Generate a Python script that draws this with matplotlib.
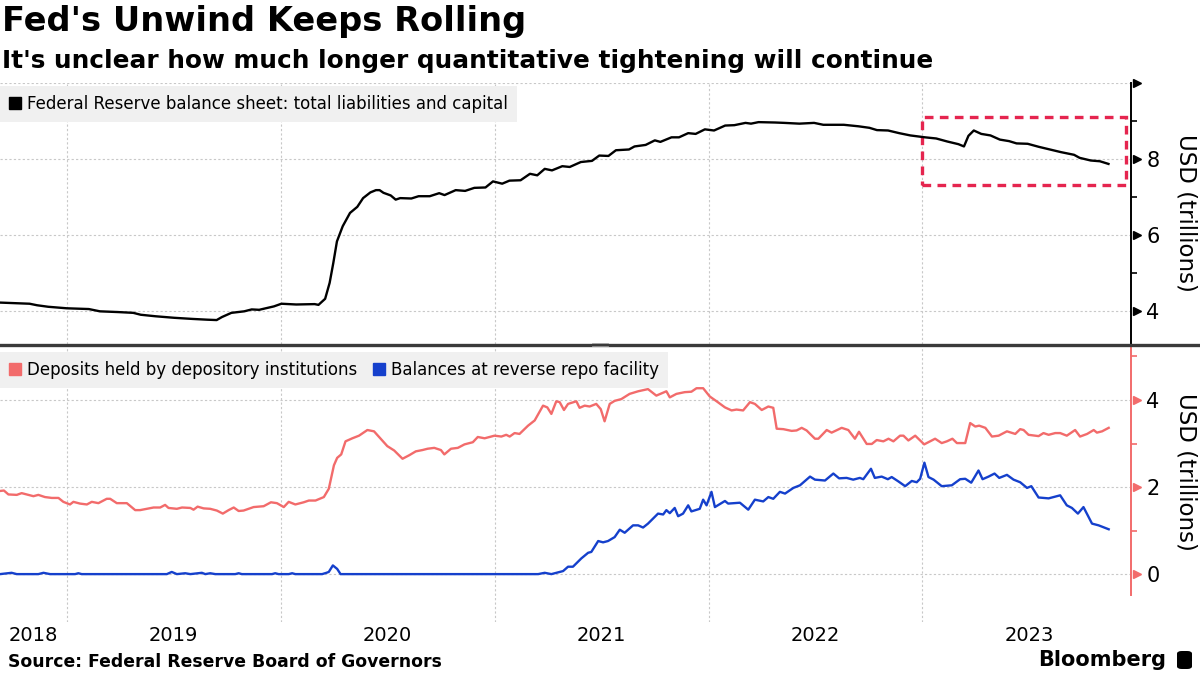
import matplotlib
matplotlib.use("Agg")
import matplotlib.pyplot as plt
import matplotlib.dates as mdates
from matplotlib.lines import Line2D
from matplotlib.patches import Rectangle, FancyBboxPatch
from matplotlib.ticker import FixedLocator
import pandas as pd

# values, dates as decimal years
bs_year = [2018.688, 2018.826, 2018.861, 2018.913, 2019.000, 2019.103, 2019.155, 2019.242, 2019.311, 2019.346,
           2019.415, 2019.502, 2019.588, 2019.657, 2019.701, 2019.726, 2019.770, 2019.830, 2019.865, 2019.900,
           2019.969, 2020.004, 2020.073, 2020.159, 2020.177, 2020.208, 2020.229, 2020.246, 2020.263, 2020.290,
           2020.324, 2020.358, 2020.385, 2020.419, 2020.445, 2020.462, 2020.480, 2020.514, 2020.537, 2020.558,
           2020.610, 2020.644, 2020.696, 2020.740, 2020.765, 2020.817, 2020.861, 2020.904, 2020.956, 2020.991,
           2021.034, 2021.068, 2021.120, 2021.164, 2021.198, 2021.233, 2021.267,
           2021.315, 2021.350, 2021.402, 2021.454, 2021.488, 2021.531, 2021.566, 2021.627, 2021.653, 2021.705,
           2021.748, 2021.774, 2021.826, 2021.861, 2021.904, 2021.939, 2021.982, 2022.025, 2022.077, 2022.120,
           2022.172, 2022.198, 2022.233, 2022.311, 2022.354, 2022.424, 2022.493, 2022.536, 2022.632, 2022.701,
           2022.752, 2022.787, 2022.839, 2022.891, 2022.943, 2023.012, 2023.064, 2023.116, 2023.168, 2023.194,
           2023.215, 2023.240, 2023.275, 2023.318, 2023.362, 2023.405, 2023.440, 2023.492, 2023.544, 2023.596,
           2023.648, 2023.709, 2023.735, 2023.787, 2023.830, 2023.870]
bs_value = [4.22, 4.19, 4.15, 4.11, 4.07, 4.05, 3.99, 3.97, 3.95, 3.90,
            3.86, 3.82, 3.79, 3.77, 3.76, 3.84, 3.95, 3.99, 4.04, 4.03,
            4.12, 4.19, 4.17, 4.18, 4.16, 4.32, 4.74, 5.26, 5.83, 6.23,
            6.58, 6.74, 6.97, 7.12, 7.18, 7.18, 7.11, 7.04, 6.93, 6.97,
            6.96, 7.02, 7.02, 7.10, 7.05, 7.18, 7.16, 7.24, 7.25, 7.41,
            7.35, 7.43, 7.44, 7.61, 7.57, 7.74, 7.70,
            7.81, 7.79, 7.92, 7.95, 8.09, 8.08, 8.23, 8.25, 8.33, 8.37,
            8.49, 8.45, 8.57, 8.57, 8.68, 8.66, 8.78, 8.75, 8.88, 8.89,
            8.95, 8.93, 8.97, 8.96, 8.95, 8.93, 8.95, 8.90, 8.90, 8.86,
            8.82, 8.76, 8.75, 8.68, 8.62, 8.57, 8.54, 8.46, 8.39, 8.33,
            8.61, 8.75, 8.66, 8.62, 8.51, 8.47, 8.41, 8.40, 8.32, 8.25,
            8.18, 8.11, 8.03, 7.96, 7.94, 7.87]

dep_year = [2018.688, 2018.706, 2018.727, 2018.766, 2018.789, 2018.813, 2018.844, 2018.867, 2018.898, 2018.930,
            2018.961, 2018.984, 2019.015, 2019.031, 2019.062, 2019.094, 2019.117, 2019.148, 2019.187, 2019.203,
            2019.234, 2019.281, 2019.320, 2019.343, 2019.406, 2019.437, 2019.460, 2019.476, 2019.515, 2019.539,
            2019.578, 2019.593, 2019.612, 2019.640, 2019.671, 2019.702, 2019.730, 2019.757, 2019.781, 2019.804,
            2019.827, 2019.874, 2019.921, 2019.955, 2019.983, 2020.015, 2020.038, 2020.069, 2020.108, 2020.132,
            2020.163, 2020.202, 2020.225, 2020.249, 2020.264, 2020.283, 2020.303, 2020.335, 2020.366, 2020.405,
            2020.436, 2020.467, 2020.498,
            2020.530, 2020.569, 2020.600, 2020.631, 2020.662, 2020.686, 2020.717, 2020.748, 2020.764, 2020.795,
            2020.827, 2020.858, 2020.897, 2020.920, 2020.952, 2020.998, 2021.030, 2021.053, 2021.069, 2021.092,
            2021.115, 2021.155, 2021.186, 2021.225, 2021.245, 2021.264, 2021.287, 2021.303, 2021.323, 2021.342,
            2021.381, 2021.396, 2021.420, 2021.443, 2021.474, 2021.495, 2021.513, 2021.537, 2021.560, 2021.591,
            2021.630, 2021.670, 2021.716, 2021.755, 2021.802, 2021.818, 2021.849, 2021.888, 2021.919, 2021.943,
            2021.974, 2022.005, 2022.037, 2022.076, 2022.107, 2022.130, 2022.161, 2022.193, 2022.216, 2022.248,
            2022.279, 2022.302, 2022.318, 2022.349, 2022.388, 2022.411, 2022.435, 2022.458, 2022.497, 2022.513,
            2022.552, 2022.575, 2022.622, 2022.653, 2022.684, 2022.703, 2022.739, 2022.763, 2022.786, 2022.817,
            2022.841, 2022.864, 2022.895, 2022.911, 2022.934, 2022.966, 2023.008, 2023.028, 2023.059, 2023.090,
            2023.114, 2023.140, 2023.161, 2023.200, 2023.223, 2023.247, 2023.265, 2023.294, 2023.325, 2023.356,
            2023.395, 2023.434, 2023.457, 2023.473, 2023.496, 2023.543, 2023.566, 2023.590, 2023.621, 2023.644,
            2023.675, 2023.714, 2023.737, 2023.770, 2023.801, 2023.816, 2023.840, 2023.871]
dep_value = [1.91, 1.92, 1.83, 1.82, 1.86, 1.83, 1.79, 1.82, 1.77, 1.75,
             1.75, 1.66, 1.60, 1.66, 1.62, 1.60, 1.66, 1.63, 1.73, 1.73,
             1.63, 1.63, 1.47, 1.47, 1.53, 1.53, 1.59, 1.52, 1.50, 1.53,
             1.52, 1.48, 1.55, 1.51, 1.50, 1.46, 1.39, 1.47, 1.53, 1.45,
             1.46, 1.54, 1.56, 1.65, 1.63, 1.54, 1.66, 1.60, 1.65, 1.69,
             1.69, 1.77, 1.96, 2.50, 2.67, 2.75, 3.05, 3.12, 3.18, 3.31,
             3.28, 3.11, 2.94,
             2.84, 2.65, 2.73, 2.82, 2.85, 2.88, 2.90, 2.85, 2.75, 2.88,
             2.90, 2.98, 3.03, 3.15, 3.12, 3.18, 3.16, 3.20, 3.16, 3.24,
             3.22, 3.41, 3.53, 3.87, 3.83, 3.68, 3.97, 3.95, 3.77, 3.91,
             3.97, 3.82, 3.87, 3.85, 3.91, 3.79, 3.51, 3.91, 3.98, 4.02,
             4.14, 4.20, 4.25, 4.10, 4.20, 4.06, 4.14, 4.18, 4.19, 4.27,
             4.27, 4.08, 3.97, 3.83, 3.76, 3.78, 3.76, 3.95, 3.91, 3.77,
             3.85, 3.82, 3.34, 3.33, 3.29, 3.30, 3.36, 3.30, 3.11, 3.11,
             3.31, 3.25, 3.36, 3.31, 3.11, 3.27, 2.99, 2.99, 3.08, 3.05,
             3.11, 3.05, 3.18, 3.18, 3.07, 3.18, 2.98, 3.03, 3.11, 3.01,
             3.05, 3.11, 3.01, 3.01, 3.47, 3.39, 3.41, 3.36, 3.16, 3.18,
             3.28, 3.22, 3.33, 3.31, 3.20, 3.17, 3.24, 3.20, 3.24, 3.24,
             3.18, 3.31, 3.16, 3.22, 3.31, 3.25, 3.28, 3.36]

rrp_year = [2018.688, 2018.742, 2018.766, 2018.867, 2018.891, 2018.922, 2019.039, 2019.054, 2019.070, 2019.468,
            2019.491, 2019.515, 2019.554, 2019.578, 2019.632, 2019.648, 2019.671, 2019.695, 2019.788, 2019.804,
            2019.819, 2019.960, 2019.975, 2019.991, 2020.038, 2020.054, 2020.069, 2020.194, 2020.214, 2020.225,
            2020.244, 2020.264, 2020.280, 2021.202, 2021.233, 2021.264, 2021.319, 2021.342, 2021.365, 2021.404,
            2021.436, 2021.451, 2021.483, 2021.506, 2021.529, 2021.560, 2021.584, 2021.607, 2021.646, 2021.670,
            2021.693, 2021.716, 2021.763, 2021.787, 2021.802, 2021.818, 2021.841, 2021.857, 2021.880, 2021.904,
            2021.919, 2021.958, 2021.974, 2021.990, 2022.013, 2022.029, 2022.076, 2022.091, 2022.146, 2022.185,
            2022.216, 2022.255, 2022.279, 2022.302, 2022.333, 2022.357, 2022.396, 2022.427, 2022.474, 2022.497,
            2022.544, 2022.583, 2022.610, 2022.645, 2022.676, 2022.707, 2022.723, 2022.759, 2022.777, 2022.809,
            2022.838, 2022.856, 2022.887, 2022.919, 2022.950, 2022.973, 2022.989, 2023.009, 2023.028, 2023.052,
            2023.090, 2023.137, 2023.176, 2023.200, 2023.228, 2023.262, 2023.281, 2023.309, 2023.337, 2023.359,
            2023.395, 2023.426, 2023.457, 2023.489, 2023.509, 2023.543, 2023.590, 2023.644, 2023.675, 2023.699,
            2023.727, 2023.753, 2023.793, 2023.824, 2023.871]
rrp_value = [0.00, 0.03, 0.00, 0.00, 0.03, 0.00, 0.00, 0.02, 0.00, 0.00,
             0.05, 0.00, 0.02, 0.00, 0.03, 0.00, 0.02, 0.00, 0.00, 0.02,
             0.00, 0.00, 0.02, 0.00, 0.00, 0.02, 0.00, 0.00, 0.03, 0.05,
             0.20, 0.12, 0.00, 0.00, 0.03, 0.00, 0.07, 0.17, 0.17, 0.36,
             0.49, 0.51, 0.76, 0.73, 0.76, 0.85, 1.02, 0.95, 1.12, 1.12,
             1.07, 1.16, 1.39, 1.37, 1.47, 1.40, 1.52, 1.33, 1.39, 1.58,
             1.44, 1.50, 1.71, 1.58, 1.89, 1.54, 1.68, 1.62, 1.64, 1.48,
             1.71, 1.67, 1.77, 1.73, 1.89, 1.85, 1.98, 2.04, 2.24, 2.17,
             2.15, 2.31, 2.20, 2.21, 2.17, 2.21, 2.18, 2.42, 2.21, 2.24,
             2.18, 2.23, 2.13, 2.02, 2.14, 2.11, 2.19, 2.56, 2.23, 2.17,
             2.02, 2.04, 2.18, 2.19, 2.10, 2.38, 2.18, 2.24, 2.31, 2.21,
             2.28, 2.17, 2.11, 1.98, 2.02, 1.76, 1.74, 1.81, 1.58, 1.52,
             1.39, 1.54, 1.16, 1.12, 1.03]

years = ["2018", "2019", "2020", "2021", "2022", "2023"]

BLACK = "#000000"
RED = "#f26b6b"
BLUE = "#1540cc"
GRID = "#c8c8c8"


def to_dates(vals):
    out = []
    for v in vals:
        yr = int(v)
        start = pd.Timestamp(yr, 1, 1)
        ndays = (pd.Timestamp(yr + 1, 1, 1) - start).days
        out.append(start + pd.Timedelta(days=(v - yr) * ndays))
    return out


W, H = 1200, 675
fig = plt.figure(figsize=(12, 6.75), dpi=100)


def px_box(l, t, r, b):
    return [l / W, 1 - b / H, (r - l) / W, (b - t) / H]


ax1 = fig.add_axes(px_box(0, 83, 1131, 344))
ax2 = fig.add_axes(px_box(0, 346, 1131, 622), sharex=ax1)

ax1.plot(to_dates(bs_year), bs_value, color=BLACK, lw=1.7, solid_joinstyle="round")
ax2.plot(to_dates(dep_year), dep_value, color=RED, lw=1.7, solid_joinstyle="round")
ax2.plot(to_dates(rrp_year), rrp_value, color=BLUE, lw=1.7, solid_joinstyle="round")

x_left = pd.Timestamp("2018-09-09")
x_right = pd.Timestamp("2023-12-23")
ax1.set_xlim(x_left, x_right)
ax1.set_ylim(3.13, 10)
ax2.set_ylim(-1.1, 5.24)

# year boundaries as minor ticks (grid), labels at mid-year
ax2.xaxis.set_minor_locator(mdates.YearLocator())
label_pos = [x_left + (pd.Timestamp("2019-01-01") - x_left) / 2]
label_pos += [pd.Timestamp(int(y), 7, 2) for y in years[1:]]
ax2.xaxis.set_major_locator(FixedLocator(mdates.date2num(label_pos)))
ax2.set_xticklabels(years)
ax2.tick_params(axis="x", which="both", length=0, pad=3, labelsize=14)
ax1.tick_params(axis="x", which="both", length=0, labelbottom=False)

for ax in (ax1, ax2):
    for s in ("left", "top", "bottom"):
        ax.spines[s].set_visible(False)
    ax.grid(axis="x", which="minor", color=GRID, ls=(0, (2, 2)), lw=0.8)
    ax.grid(axis="y", which="major", color=GRID, ls=(0, (2, 2)), lw=0.8)
    ax.set_axisbelow(True)
    ax.yaxis.tick_right()
    ax.patch.set_alpha(0)

top_major = [4, 6, 8, 10]
top_minor = [5, 7, 9]
ax1.set_yticks(top_major)
ax1.set_yticklabels(["4", "6", "8", ""])
ax1.set_yticks(top_minor, minor=True)
ax1.tick_params(axis="y", which="major", length=0, pad=11, labelsize=15)
ax1.tick_params(axis="y", which="minor", length=4, width=1.2, color=BLACK)
ax1.spines["right"].set_linewidth(1.4)
ax1.plot([1.005] * len(top_major), top_major, ls="none", marker=">", ms=5.5, color=BLACK,
         transform=ax1.get_yaxis_transform(), clip_on=False)

bot_major = [0, 2, 4]
bot_minor = [1, 3, 5]
ax2.set_yticks(bot_major)
ax2.set_yticklabels(["0", "2", "4"])
ax2.set_yticks(bot_minor, minor=True)
ax2.tick_params(axis="y", which="major", length=0, pad=11, labelsize=15)
ax2.tick_params(axis="y", which="minor", length=4, width=1.2, color=RED)
ax2.spines["right"].set_color(RED)
ax2.spines["right"].set_linewidth(1.4)
ax2.spines["right"].set_bounds(-0.48, 5.24)
ax2.plot([1.005] * len(bot_major), bot_major, ls="none", marker=">", ms=5.5, color=RED,
         transform=ax2.get_yaxis_transform(), clip_on=False)

# legends
leg_kw = dict(loc="upper left", frameon=True, fancybox=False, facecolor="#f0f0f0",
              edgecolor="none", framealpha=1, handlelength=0.7, handletextpad=0.35,
              borderpad=0.55, borderaxespad=0, columnspacing=1.0,
              prop={"size": 12})
h1 = [Line2D([], [], ls="none", marker="s", ms=9, color=BLACK)]
ax1.legend(h1, ["Federal Reserve balance sheet: total liabilities and capital"],
           bbox_to_anchor=(0, 0.99), **leg_kw)
h2 = [Line2D([], [], ls="none", marker="s", ms=9, color=RED),
      Line2D([], [], ls="none", marker="s", ms=9, color=BLUE)]
ax2.legend(h2, ["Deposits held by depository institutions", "Balances at reverse repo facility"],
           bbox_to_anchor=(0, 0.98), ncol=2, **leg_kw)

# highlight box around the latest run-off
box_x0 = mdates.date2num(pd.Timestamp("2023-01-01"))
box_x1 = mdates.date2num(pd.Timestamp("2023-12-14"))
ax1.add_patch(Rectangle((box_x0, 7.32), box_x1 - box_x0, 9.1 - 7.32, fill=False,
                        ec="#e5254f", lw=2.4, ls=(0, (2.6, 1.9)), clip_on=False))

# panel divider
fig.add_artist(Line2D([0, 1], [1 - 344.5 / H] * 2, color="#3a3a3a", lw=2.4,
                      transform=fig.transFigure))
for yy in (343.3, 345.8):
    fig.add_artist(Line2D([592 / W, 608 / W], [1 - yy / H] * 2, color="#9a9a9a", lw=0.6,
                          transform=fig.transFigure))

fig.text(1186 / W, 1 - 213 / H, "USD (trillions)", rotation=270, fontsize=16.5,
         ha="center", va="center")
fig.text(1186 / W, 1 - 472 / H, "USD (trillions)", rotation=270, fontsize=16.5,
         ha="center", va="center")

fig.text(2 / W, 1 - 22 / H, "Fed's Unwind Keeps Rolling", fontsize=24.2, weight="bold",
         ha="left", va="center")
fig.text(2 / W, 1 - 61 / H, "It's unclear how much longer quantitative tightening will continue",
         fontsize=17.8, weight="bold", ha="left", va="center")
fig.text(8 / W, 1 - 662 / H, "Source: Federal Reserve Board of Governors", fontsize=12.4,
         weight="bold", ha="left", va="center")
fig.text(1166 / W, 1 - 660 / H, "Bloomberg", fontsize=15, weight="bold",
         ha="right", va="center")
fig.add_artist(FancyBboxPatch((1177 / W, 1 - 669 / H), 15 / W, 18 / H,
                              boxstyle="round,pad=0,rounding_size=0.004",
                              fc="black", ec="none", transform=fig.transFigure))

fig.savefig("out.png", dpi=100)
